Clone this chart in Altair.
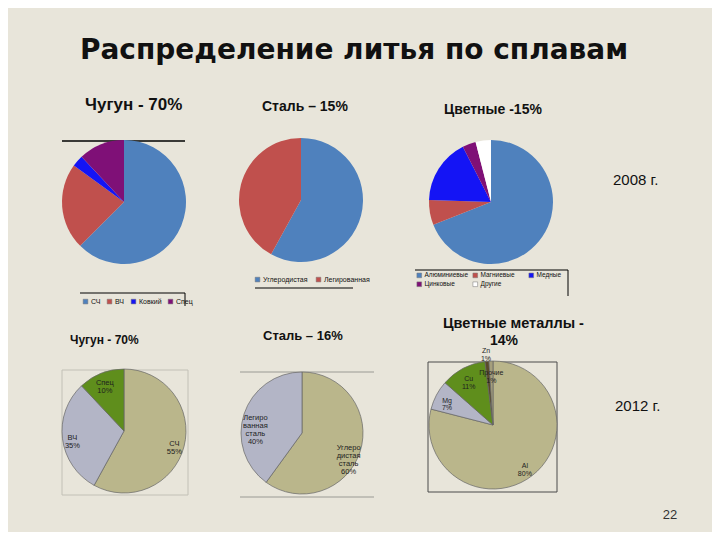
import altair as alt
import pandas as pd

# ---------------- data ----------------
iron08_cats = ["СЧ", "ВЧ", "Ковкий", "Спец"]
iron08_vals = [62.5, 22.5, 3, 12]

steel08_cats = ["Углеродистая", "Легированная"]
steel08_vals = [58, 42]

nonfer08_cats = ["Алюминиевые", "Магниевые", "Медные", "Цинковые", "Другие"]
nonfer08_vals = [69, 6.5, 17, 3.5, 4]

iron12_cats = ["СЧ", "ВЧ", "Спец"]
iron12_vals = [58, 30, 12]
iron12_labels = ["СЧ\n55%", "ВЧ\n35%", "Спец\n10%"]

steel12_cats = ["Углеродистая сталь", "Легированная сталь"]
steel12_vals = [60, 40]
steel12_labels = ["Углеро\nдистая\nсталь\n60%", "Легиро\nванная\nсталь\n40%"]

nonfer12_cats = ["Al", "Mg", "Cu", "Zn", "Прочие"]
nonfer12_vals = [79, 7.5, 11.5, 1, 1]
nonfer12_labels = ["Al\n80%", "Mg\n7%", "Cu\n11%", "Zn\n1%", "Прочие\n1%"]

# ---------------- styles ----------------
W, H = 704, 524
BG = "#e8e5da"
FONT = "Liberation Sans"
BLUE, RED, BRBLUE, PURPLE = "#4f81bd", "#c0504d", "#1414f5", "#7f1077"
KHAKI, GREY, GREEN = "#bab68b", "#b3b5c6", "#5f8e1c"

iron08_colors = [BLUE, RED, BRBLUE, PURPLE]
steel08_colors = [BLUE, RED]
nonfer08_colors = [BLUE, RED, BRBLUE, PURPLE, "#ffffff"]
iron12_colors = [KHAKI, GREY, GREEN]
steel12_colors = [KHAKI, GREY]
nonfer12_colors = [KHAKI, GREY, GREEN, "#5a4a2a", "#a59f7c"]


def table(cats, vals, labels=None):
    d = {"cat": cats, "v": vals, "i": list(range(len(cats)))}
    if labels is not None:
        d["lbl"] = labels
    return pd.DataFrame(d)


def pie(df, cats, colors, cx, cy, r, legend=None, stroke=None):
    kw = dict(outerRadius=r)
    if stroke:
        kw.update(stroke=stroke, strokeWidth=0.7)
    color = alt.Color("cat:N", scale=alt.Scale(domain=cats, range=colors),
                      sort=cats, legend=legend)
    return alt.Chart(df).mark_arc(**kw).encode(
        theta=alt.Theta("v:Q", stack=True),
        order=alt.Order("i:Q"),
        color=color,
        x=alt.value(cx), y=alt.value(cy),
    )


def pie_labels(df, cx, cy, rad_expr, size=7.5):
    """Labels at the middle angle of each slice (explicit stack in data order)."""
    total = float(df["v"].sum())
    ch = alt.Chart(df).transform_stack(
        stack="v", groupby=[], as_=["s0", "s1"], sort=[alt.SortField("i", order="ascending")]
    ).transform_calculate(mid="(datum.s0 + datum.s1) / 2", lr=rad_expr)
    return ch.mark_text(
        fontSize=size, font=FONT, color="#1e1e1e", lineBreak="\n",
        align="center", baseline="middle", lineHeight=size + 0.5,
    ).encode(
        theta=alt.Theta("mid:Q", stack=None, scale=alt.Scale(domain=[0, total])),
        radius=alt.Radius("lr:Q", scale=None),
        text=alt.Text("lbl:N"),
        x=alt.value(cx), y=alt.value(cy),
    )


def txt(s, x, y, size, bold=True, align="left", font=FONT, color="#111111"):
    return alt.Chart(alt.Data(values=[{}])).mark_text(
        align=align, baseline="middle", fontSize=size,
        fontWeight="bold" if bold else "normal", font=font, color=color,
    ).encode(x=alt.value(x), y=alt.value(y), text=alt.value(s))


def rule(x1, y1, x2, y2, color="#000000", w=1.0):
    return alt.Chart(alt.Data(values=[{}])).mark_rule(color=color, strokeWidth=w).encode(
        x=alt.value(x1), y=alt.value(y1), x2=alt.value(x2), y2=alt.value(y2))


def legend(x, y, cols, size=7, pad=5, grid="each"):
    return alt.Legend(orient="none", legendX=x, legendY=y, direction="horizontal",
                      columns=cols, title=None, symbolType="square", symbolSize=22,
                      labelFontSize=size, labelFont=FONT, labelColor="#111111",
                      columnPadding=pad, rowPadding=1, symbolStrokeWidth=0.5,
                      symbolStrokeColor="#777777", padding=0, labelOffset=2,
                      gridAlign=grid)


layers = []

# frames / decorative lines
layers += [
    rule(54, 133, 177, 133, "#000000", 1.3),
    rule(72, 285, 177, 285, "#000000", 1.0),
    rule(177, 285, 177, 298, "#000000", 1.0),
    rule(247, 280, 345, 280, "#000000", 1.0),
    rule(407, 262, 560, 262, "#000000", 1.0),
    rule(560, 262, 560, 288, "#000000", 1.0),
    rule(54, 362, 180, 362, "#c2c0b6", 1.0),
    rule(54, 487, 180, 487, "#c2c0b6", 1.0),
    rule(54, 362, 54, 487, "#c2c0b6", 1.0),
    rule(180, 362, 180, 487, "#c2c0b6", 1.0),
    rule(232, 364, 366, 364, "#9a9a94", 1.0),
    rule(232, 489, 366, 489, "#9a9a94", 1.0),
    rule(420, 354, 549, 354, "#4a4a4a", 1.0),
    rule(420, 484, 549, 484, "#4a4a4a", 1.0),
    rule(420, 354, 420, 484, "#4a4a4a", 1.0),
    rule(549, 354, 549, 484, "#4a4a4a", 1.0),
]

# 2008 pies
layers.append(pie(table(iron08_cats, iron08_vals), iron08_cats, iron08_colors,
                  116, 194, 62, legend=legend(74, 290, 4)))
layers.append(pie(table(steel08_cats, steel08_vals), steel08_cats, steel08_colors,
                  293, 192, 62, legend=legend(246, 268, 2, pad=7)))
layers.append(pie(table(nonfer08_cats, nonfer08_vals), nonfer08_cats, nonfer08_colors,
                  483, 194, 62, legend=legend(408, 264, 3, size=6.5, pad=2, grid="all")))

# 2012 pies
d4 = table(iron12_cats, iron12_vals, iron12_labels)
d5 = table(steel12_cats, steel12_vals, steel12_labels)
d6 = table(nonfer12_cats, nonfer12_vals, nonfer12_labels)
layers.append(pie(d4, iron12_cats, iron12_colors, 116, 423, 62, stroke="#666666"))
layers.append(pie(d5, steel12_cats, steel12_colors, 294, 425, 61, stroke="#666666"))
layers.append(pie(d6, nonfer12_cats, nonfer12_colors, 485, 417, 64, stroke="#666666"))
layers.append(pie_labels(d4, 116, 423, "52"))
layers.append(pie_labels(d5, 294, 425, "49"))
layers.append(pie_labels(d6, 485, 417, "datum.cat == 'Zn' ? 74 : 52", size=7))

# texts
layers += [
    txt("Распределение литья по сплавам", 346, 43, 28, font="DejaVu Sans", align="center"),
    txt("Чугун - 70%", 77, 97, 17),
    txt("Сталь – 15%", 254, 99, 14),
    txt("Цветные -15%", 436, 102, 14),
    txt("Чугун - 70%", 62, 332, 12),
    txt("Сталь – 16%", 255, 328, 13),
    txt("Цветные металлы -", 435, 316, 14.5),
    txt("14%", 496, 333, 14, align="center"),
    txt("2008 г.", 605, 172, 15, bold=False),
    txt("2012 г.", 607, 398, 15, bold=False),
    txt("22", 662, 507, 13, bold=False, align="center", color="#333333"),
]

chart = alt.layer(*layers).resolve_scale(
    color="independent", theta="independent"
).resolve_legend(color="independent").properties(
    width=W, height=H, background=BG, padding=0, autosize="none"
).configure_view(strokeWidth=0)

chart.save("out.html", embed_options={"renderer": "svg", "actions": False})
